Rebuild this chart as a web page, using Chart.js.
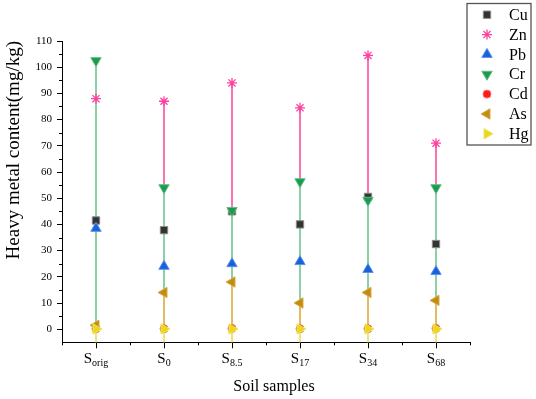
<!DOCTYPE html>
<html><head><meta charset="utf-8">
<script src="https://cdn.jsdelivr.net/npm/chart.js@4.4.1/dist/chart.umd.min.js"></script>
<style>html,body{margin:0;padding:0;background:#fff}</style>
</head><body>
<canvas id="c" width="536" height="399"></canvas>
<script>
// ---- data ----
const sampleBase = 'S';
const sampleSubs = ['orig', '0', '8.5', '17', '34', '68'];
const seriesNames = ['Cu', 'Zn', 'Pb', 'Cr', 'Cd', 'As', 'Hg'];
const Cu = [41.5, 37.8, 45.0, 40.0, 50.5, 32.5];
const Zn = [88.0, 87.0, 94.0, 84.5, 104.5, 71.0];
const Pb = [38.5, 24.0, 25.0, 25.8, 22.8, 22.0];
const Cr = [102.5, 54.0, 45.3, 56.3, 49.2, 54.0];
const Cd = [0.2, 0.2, 0.3, 0.2, 0.2, 0.3];
const As = [1.5, 14.0, 18.0, 10.0, 14.0, 11.0];
const Hg = [0.1, 0.1, 0.1, 0.1, 0.1, 0.1];
const yTicks = [0, 10, 20, 30, 40, 50, 60, 70, 80, 90, 100, 110];
const yMinorTicks = [5, 15, 25, 35, 45, 55, 65, 75, 85, 95, 105];
const xMinorTicks = [-0.5, 0.5, 1.5, 2.5, 3.5, 4.5, 5.5];

// ---- styles ----
const FONT = '"Liberation Serif", "Times New Roman", serif';
const yMin = -5, yMax = 110;
const styles = [
  {style: 'rect',     rot: 0,   r: 5.2, fill: '#333333', edge: '#8c8c8c', bw: 1,   line: '#9a9a9a'},
  {style: 'star',     rot: 0,   r: 5,   fill: '#FF3FA0', edge: '#FF3FA0', bw: 1.3, line: '#FF6FB4'},
  {style: 'triangle', rot: 0,   r: 6,   fill: '#1A5FDC', edge: '#5A92EE', bw: 1,   line: '#7FA8F0'},
  {style: 'triangle', rot: 180, r: 6,   fill: '#1E9A4E', edge: '#5CC184', bw: 1,   line: '#8AD2A5'},
  {style: 'circle',   rot: 0,   r: 4,   fill: '#FF1A1A', edge: '#FF6A6A', bw: 1,   line: '#FF8A8A'},
  {style: 'triangle', rot: 270, r: 6,   fill: '#C48C0E', edge: '#D8AA48', bw: 1,   line: '#E2BC62'},
  {style: 'triangle', rot: 90,  r: 6,   fill: '#E6DA1C', edge: '#EEE45A', bw: 1,   line: '#EEE47A'}
];
const seriesData = [Cu, Zn, Pb, Cr, Cd, As, Hg];

const datasets = [];
seriesData.forEach((vals, i) => {
  const s = styles[i];
  // drop lines from the axis up to each point (segments separated by gaps)
  const pts = [];
  vals.forEach((v, k) => { pts.push({x: k, y: yMin}, {x: k, y: v}, {x: k, y: null}); });
  datasets.push({
    type: 'scatter', label: seriesNames[i] + ' drop', data: pts,
    showLine: true, spanGaps: false, pointRadius: 0,
    borderColor: s.line, borderWidth: 2, order: 100 - i
  });
});
seriesData.forEach((vals, i) => {
  const s = styles[i];
  datasets.push({
    type: 'scatter', label: seriesNames[i],
    data: vals.map((v, k) => ({x: k, y: v})),
    pointStyle: s.style, pointRotation: s.rot, pointRadius: s.r,
    backgroundColor: s.fill, borderColor: s.edge, borderWidth: s.bw,
    order: 50 - i
  });
});

function drawMarker(ctx, s, x, y) {
  ctx.fillStyle = s.fill; ctx.strokeStyle = s.edge; ctx.lineWidth = s.bw;
  Chart.helpers.drawPoint(ctx, {pointStyle: s.style, rotation: s.rot, radius: s.r, borderWidth: s.bw}, x, y);
}

const decor = {
  id: 'decor',
  afterDraw(chart) {
    const ctx = chart.ctx, xs = chart.scales.x, ys = chart.scales.y;
    ctx.save();
    // minor ticks
    ctx.strokeStyle = '#000'; ctx.lineWidth = 1;
    ctx.beginPath();
    xMinorTicks.forEach(v => {
      const px = Math.round(xs.getPixelForValue(v)) + 0.5;
      ctx.moveTo(px, xs.top); ctx.lineTo(px, xs.top + 3);
    });
    yMinorTicks.forEach(v => {
      const py = Math.round(ys.getPixelForValue(v)) + 0.5;
      ctx.moveTo(ys.right, py); ctx.lineTo(ys.right - 3, py);
    });
    ctx.stroke();
    // x tick labels with subscripts
    ctx.fillStyle = '#000'; ctx.textAlign = 'left'; ctx.textBaseline = 'alphabetic';
    sampleSubs.forEach((sub, i) => {
      const px = xs.getPixelForValue(i);
      ctx.font = '15px ' + FONT; const w1 = ctx.measureText(sampleBase).width;
      ctx.font = '10px ' + FONT; const w2 = ctx.measureText(sub).width;
      const x0 = px - (w1 + w2) / 2;
      ctx.font = '15px ' + FONT; ctx.fillText(sampleBase, x0, xs.top + 21);
      ctx.font = '10px ' + FONT; ctx.fillText(sub, x0 + w1, xs.top + 24);
    });
    // x axis title
    ctx.font = '16px ' + FONT; ctx.textAlign = 'center'; ctx.textBaseline = 'middle';
    ctx.fillText('Soil samples', (xs.left + xs.right) / 2 + 8, xs.top + 44.5);
    // legend
    const lx = 467, ly = 3.5, lw = 64, lh = 141.5;
    ctx.fillStyle = '#fff'; ctx.fillRect(lx, ly, lw, lh);
    ctx.strokeStyle = '#555'; ctx.lineWidth = 1.3; ctx.strokeRect(lx, ly, lw, lh);
    seriesNames.forEach((name, i) => {
      const y = 14.7 + i * 19.85;
      drawMarker(ctx, styles[i], 487, y);
      ctx.fillStyle = '#000'; ctx.font = '16px ' + FONT; ctx.textBaseline = 'middle'; ctx.textAlign = 'left';
      ctx.fillText(name, 509, y + 1);
    });
    ctx.restore();
  }
};

new Chart(document.getElementById('c'), {
  type: 'scatter',
  data: {datasets},
  options: {
    responsive: false, animation: false,
    layout: {padding: {top: 41, right: 66, left: 0, bottom: 0}},
    plugins: {legend: {display: false}, tooltip: {enabled: false}},
    scales: {
      x: {
        type: 'linear', min: -0.5, max: 5.5,
        afterBuildTicks: sc => { sc.ticks = [0, 1, 2, 3, 4, 5].map(v => ({value: v})); },
        afterFit: sc => { sc.height = 399 - 342.3; },
        ticks: {callback: () => '', padding: 0},
        grid: {drawOnChartArea: false, tickLength: 6, tickColor: '#000', tickWidth: 1},
        border: {display: true, color: '#000', width: 1},
        title: {display: false}
      },
      y: {
        type: 'linear', min: yMin, max: yMax,
        afterBuildTicks: sc => { sc.ticks = yTicks.map(v => ({value: v})); },
        afterFit: sc => { sc.width = 62; },
        ticks: {color: '#000', font: {family: FONT, size: 11}, padding: 5},
        grid: {drawOnChartArea: false, tickLength: 5, tickColor: '#000', tickWidth: 1},
        border: {display: true, color: '#000', width: 1},
        title: {display: true, text: 'Heavy metal content(mg/kg)', color: '#000', align: 'end', font: {family: FONT, size: 19}, padding: {top: 3, bottom: 0}}
      }
    }
  },
  plugins: [decor]
});
</script>
</body></html>
